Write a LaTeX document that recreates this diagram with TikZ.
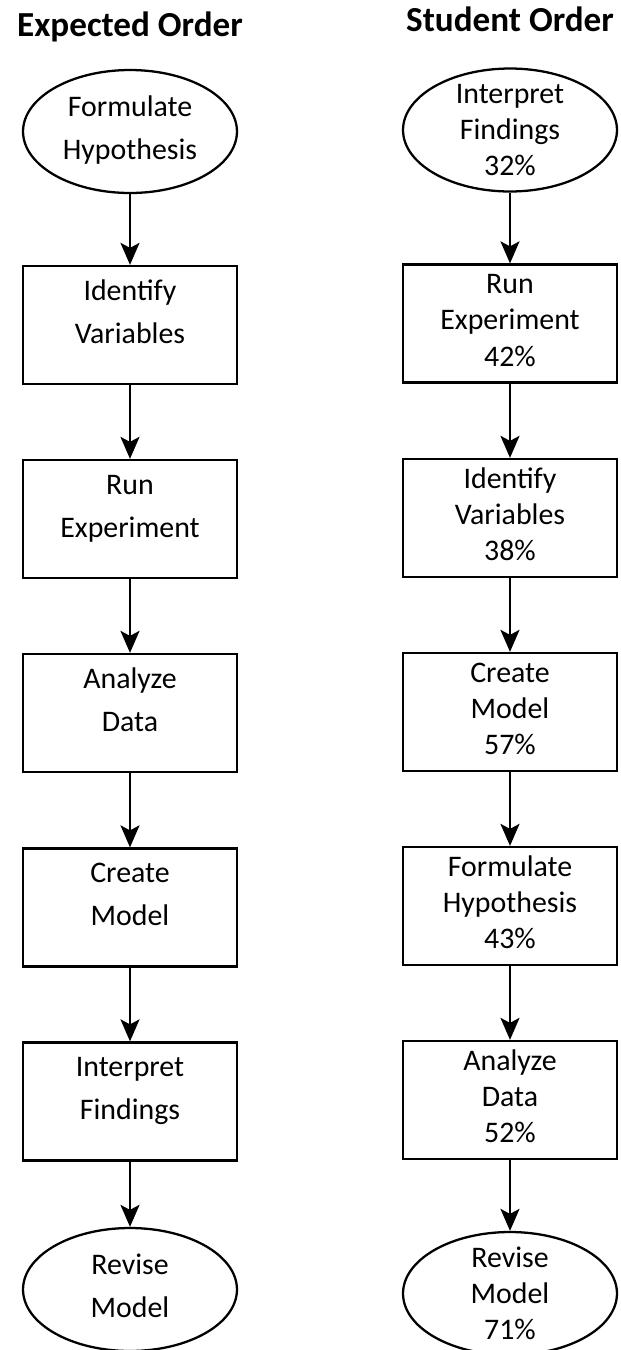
\documentclass[tikz,border=0pt]{standalone}
\usepackage{fontspec}
\setmainfont{Carlito}
\usetikzlibrary{shapes.geometric,arrows.meta}

\begin{document}
\begin{tikzpicture}[x=0.02cm,y=-0.02cm,line width=1.3pt,
    title/.style={font=\bfseries\fontsize{20}{24}\selectfont,anchor=base},
    lbox/.style={shape=rectangle,draw=black,inner sep=0pt,minimum width=4.28cm,minimum height=2.36cm,
        align=center,font=\fontsize{17}{24.2}\selectfont,text height=0.72cm,text depth=0cm},
    lell/.style={shape=ellipse,draw=black,inner sep=0pt,minimum width=4.28cm,minimum height=2.46cm,
        align=center,font=\fontsize{17}{24.2}\selectfont,text height=1.12cm,text depth=0cm},
    rbox/.style={lbox,font=\fontsize{17}{20.5}\selectfont,text height=1.7cm},
    rell/.style={lell,font=\fontsize{17}{20.5}\selectfont,text height=1.84cm,inner ysep=-0.12cm},
    arr/.style={-{Stealth[length=0.44cm,width=0.38cm,inset=0.1cm]},black}]

    \useasboundingbox (0,0) rectangle (621,1350);

    \node[title] (TE) at (130,36) {Expected Order};
    \node[title] (TS) at (510,31) {Student Order};

    \node[lell] (E1) at (130,131.5) {Formulate\\Hypothesis};
    \node[lbox] (E2) at (130,325) {Identify\\Variables};
    \node[lbox] (E3) at (130,519) {Run\\Experiment};
    \node[lbox] (E4) at (130,713) {Analyze\\Data};
    \node[lbox] (E5) at (130,907.5) {Create\\Model};
    \node[lbox] (E6) at (130,1101.5) {Interpret\\Findings};
    \node[lell] (E7) at (130,1289.5) {Revise\\Model};

    \node[rell] (S1) at (510,130) {Interpret\\Findings\\32\%};
    \node[rbox] (S2) at (510,323.5) {Run\\Experiment\\42\%};
    \node[rbox] (S3) at (510,518) {Identify\\Variables\\38\%};
    \node[rbox] (S4) at (510,712) {Create\\Model\\57\%};
    \node[rbox] (S5) at (510,906) {Formulate\\Hypothesis\\43\%};
    \node[rbox] (S6) at (510,1100) {Analyze\\Data\\52\%};
    \node[rell] (S7) at (510,1293.5) {Revise\\Model\\71\%};

   \draw[arr]   (E1) -- (E2);
   \draw[arr]   (E2) -- (E3);
   \draw[arr]   (E3) -- (E4);
   \draw[arr]   (E4) -- (E5);
   \draw[arr]   (E5) -- (E6);
   \draw[arr]   (E6) -- (E7);

   \draw[arr]   (S1) -- (S2);
   \draw[arr]   (S2) -- (S3);
   \draw[arr]   (S3) -- (S4);
   \draw[arr]   (S4) -- (S5);
   \draw[arr]   (S5) -- (S6);
   \draw[arr]   (S6) -- (S7);
\end{tikzpicture}
\end{document}
